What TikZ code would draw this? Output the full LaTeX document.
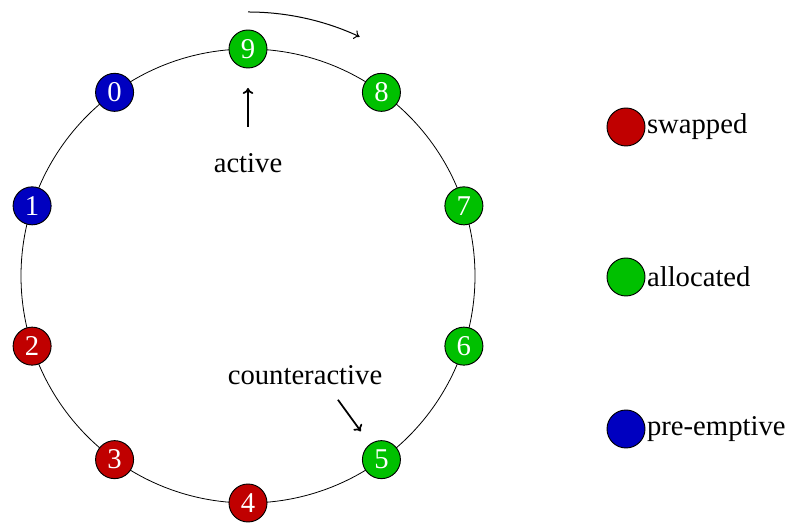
\documentclass[tikz,border=0pt]{standalone}
\usepackage{fontspec}
\usetikzlibrary{arrows.meta}
\setmainfont{Liberation Serif}
\definecolor{cred}{RGB}{192,0,0}
\definecolor{cgreen}{RGB}{0,192,0}
\definecolor{cblue}{RGB}{0,0,192}
\begin{document}
\begin{tikzpicture}[x=0.75pt,y=0.75pt,
  every node/.style={font=\fontsize{21.5}{25}\selectfont},
  slot/.style={circle,draw=black,line width=0.7pt,minimum size=28.5pt,inner sep=0pt,text=white},
  red slot/.style={slot,fill=cred},
  green slot/.style={slot,fill=cgreen},
  blue slot/.style={slot,fill=cblue},
  legend/.style={anchor=west,inner sep=1pt},
  pointer/.style={-{To[length=4.5pt,width=8pt]},line width=1.3pt}]
\useasboundingbox (0,0) rectangle (789,523);
\coordinate (c) at (248,247);
\draw[line width=0.6pt] (c) circle[radius=170.25pt];
% top rotation arrow
\draw[-{To[length=4pt,width=7pt]},line width=0.75pt] ([shift={(90:264)}]c) arc[start angle=90,end angle=65,radius=198pt];
% slots
\foreach \k/\s in {0/blue slot,1/blue slot,2/red slot,3/red slot,4/red slot,5/green slot,6/green slot,7/green slot,8/green slot,9/green slot}{
  \node[\s] (n\k) at ([shift={(36*\k-234:227)}]c) {\k};
}
% labels
\node (act) at (248,360) {active};
\coordinate (a1) at ([shift={(90:149)}]c);
\coordinate (a2) at ([shift={(90:188)}]c);
\draw[pointer] (a1) -- (a2);
\node (cnt) at (305,148) {counteractive};
\coordinate (b1) at ([shift={(-54:153)}]c);
\coordinate (b2) at ([shift={(-54:192)}]c);
\draw[pointer] (b1) -- (b2);
% legend
\node[red slot] (l1) at (626,396) {};
\node[legend] (t1) at (l1.east) {swapped};
\node[green slot] (l2) at (626,246) {};
\node[legend] (t2) at (l2.east) {allocated};
\node[blue slot] (l3) at (626,94) {};
\node[legend] (t3) at (l3.east) {pre-emptive};
\end{tikzpicture}
\end{document}
